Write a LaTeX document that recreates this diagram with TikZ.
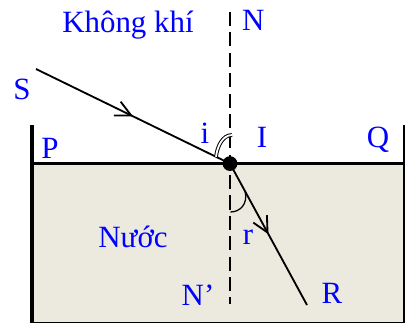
\documentclass[tikz,border=0pt]{standalone}
\usepackage{fontspec}
\setmainfont{Liberation Serif}
\usepackage{tikz}
\usepackage{xcolor}
\usetikzlibrary{arrows.meta,decorations.markings}
\definecolor{labelblue}{HTML}{0000FF}
\definecolor{waterfill}{HTML}{ECE9DE}
\tikzset{
  lbl/.style={font=\fontsize{22}{25}\selectfont, text=labelblue, inner sep=0pt},
  ray/.style={line width=1.3pt, postaction={decorate},
    decoration={markings, mark=at position 0.5 with {\arrow{Straight Barb[length=11pt,width=11pt,line width=1.3pt]}}}},
  wall/.style={line width=2.2pt}
}

\begin{document}
\begin{tikzpicture}
      \useasboundingbox (0,0) rectangle (10.15,8.1);
      \coordinate (I) at (5.75,4.01);
      \coordinate (S) at (0.9,6.375);
      \coordinate (R) at (7.675,0.475);
      \coordinate (Ntop) at (5.75,7.8);
      \coordinate (Nbot) at (5.75,0.5);
      % water and container
      \fill[waterfill] (0.8,0.04) rectangle (10.1,4.01);
      \draw[line width=0.8pt] (0.8,0.04) -- (10.1,0.04);
      \draw[wall] (0.8,4.975) -- (0.8,0.02);
      \draw[line width=1.4pt] (10.1,4.975) -- (10.1,0.02);
      \draw[line width=2.4pt] (0.8,4.01) -- (10.1,4.01);
      % normal
      \draw[line width=1.2pt,dash pattern=on 10pt off 4.5pt] (Ntop) -- (Nbot);
      % rays
      \draw[ray] (S) -- (I);
      \draw[ray] (I) -- (R);
      \fill (I) circle (0.185);
      % angles
      \draw[line width=0.7pt,double,double distance=1.3pt]
        (5.8,4.725) .. controls (5.55,4.72) and (5.43,4.42) .. (5.4,4.18);
      \draw[line width=0.9pt]
        (6.13,3.3) .. controls (6.2,3.0) and (6.0,2.8) .. (5.76,2.8);
      % labels
      \node[lbl] (air) at (3.2,7.475) {Không khí};
      \node[lbl] (water) at (3.325,2.175) {Nước};
      \node[lbl] (lblN) at (6.33,7.6) {N};
      \node[lbl] (lblNp) at (4.95,0.725) {N’};
      \node[lbl] (lblS) at (0.55,5.875) {S};
      \node[lbl] (lblR) at (8.3,0.775) {R};
      \node[lbl] (lblP) at (1.25,4.4) {P};
      \node[lbl] (lblQ) at (9.45,4.6) {Q};
      \node[lbl] (lblI) at (6.55,4.675) {I};
      \node[lbl] (lbli) at (5.125,4.775) {i};
      \node[lbl] (lblr) at (6.2,2.175) {r};
    \end{tikzpicture}
\end{document}
